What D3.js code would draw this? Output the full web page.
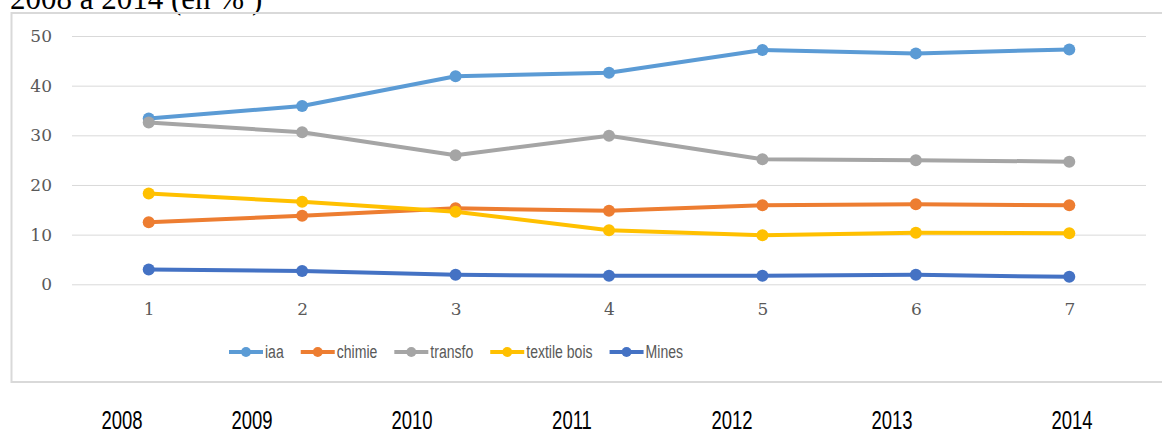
<!DOCTYPE html>
<html>
<head>
<meta charset="utf-8">
<script src="https://cdn.jsdelivr.net/npm/d3@7"></script>
<style>
  body { margin: 0; background: #fff; }
  svg { display: block; }
  .axis text { font-family: "DejaVu Serif", serif; font-size: 17px; fill: #595959; }
  .legend text { font-family: "Liberation Sans", sans-serif; font-size: 18px; fill: #595959; }
  .years text { font-family: "Liberation Sans", sans-serif; font-size: 25px; fill: #000; }
</style>
</head>
<body>
<svg id="chart" width="1162" height="435"></svg>
<script>
// Data
var categories = [1, 2, 3, 4, 5, 6, 7];
var yearLabels = ["2008", "2009", "2010", "2011", "2012", "2013", "2014"];
var seriesNames = ["iaa", "chimie", "transfo", "textile bois", "Mines"];
var iaa = [33.4, 35.9, 41.9, 42.6, 47.2, 46.5, 47.3];
var chimie = [12.5, 13.8, 15.3, 14.8, 15.9, 16.1, 15.9];
var transfo = [32.6, 30.6, 26.0, 29.9, 25.2, 25.0, 24.7];
var textileBois = [18.3, 16.6, 14.6, 10.9, 9.9, 10.4, 10.3];
var mines = [3.0, 2.7, 1.9, 1.7, 1.7, 1.9, 1.5];
var yTicks = [0, 10, 20, 30, 40, 50];

// Layout (not data)
var colors = ["#5B9BD5", "#ED7D31", "#A5A5A5", "#FFC000", "#4472C4"];
var yearX = [122, 252, 412, 572, 732, 892, 1072];

var series = [iaa, chimie, transfo, textileBois, mines].map(function(v, i) {
  return { name: seriesNames[i], color: colors[i], values: v };
});

// squeeze a text horizontally (the original uses a narrow font)
var condense = function(sel, k) {
  sel.each(function() {
    var w = this.getComputedTextLength();
    d3.select(this).attr("textLength", w * k).attr("lengthAdjust", "spacingAndGlyphs");
  });
};

var svg = d3.select("#chart");

// Title, cut off at the top like in the original
svg.append("text")
  .attr("x", 10)
  .attr("y", 9)
  .attr("font-family", "Liberation Serif, Times New Roman, serif")
  .attr("font-size", 31)
  .attr("fill", "#000")
  .text("2008 à 2014 (en % )");

// Chart box
svg.append("rect")
  .attr("x", 11.5)
  .attr("y", 13)
  .attr("width", 1170)
  .attr("height", 369)
  .attr("fill", "none")
  .attr("stroke", "#d9d9d9")
  .attr("stroke-width", 2);

var x = d3.scalePoint().domain(categories).range([72, 1146]).padding(0.5);
var y = d3.scaleLinear().domain([0, 50]).range([284.3, 36]);

// Y axis + gridlines
var yAxis = svg.append("g")
  .attr("class", "axis")
  .attr("transform", "translate(72,0)")
  .call(d3.axisLeft(y).tickValues(yTicks).tickSize(-(1146 - 72)).tickPadding(20));
yAxis.select(".domain").remove();
yAxis.selectAll(".tick line").attr("stroke", "#d9d9d9").attr("stroke-width", 1);

// X axis labels
var xAxis = svg.append("g")
  .attr("class", "axis")
  .attr("transform", "translate(0,284.3)")
  .call(d3.axisBottom(x).tickSize(0).tickPadding(19));
xAxis.select(".domain").remove();

// Lines
var line = d3.line()
  .x(function(d, i) { return x(categories[i]); })
  .y(function(d) { return y(d); });

var groups = svg.append("g").selectAll("g").data(series).enter().append("g");

groups.append("path")
  .attr("d", function(d) { return line(d.values); })
  .attr("fill", "none")
  .attr("stroke", function(d) { return d.color; })
  .attr("stroke-width", 4)
  .attr("stroke-linejoin", "round");

groups.selectAll("circle").data(function(d) { return d.values.map(function(v) { return { v: v, c: d.color }; }); })
  .enter().append("circle")
  .attr("cx", function(d, i) { return x(categories[i]); })
  .attr("cy", function(d) { return y(d.v); })
  .attr("r", 6)
  .attr("fill", function(d) { return d.c; });

// Legend
var legend = svg.append("g").attr("class", "legend");
var lx = 229;
var ly = 352;
series.forEach(function(s) {
  legend.append("line")
    .attr("x1", lx).attr("x2", lx + 34)
    .attr("y1", ly).attr("y2", ly)
    .attr("stroke", s.color).attr("stroke-width", 4);
  legend.append("circle")
    .attr("cx", lx + 17).attr("cy", ly).attr("r", 5)
    .attr("fill", s.color);
  var t = legend.append("text")
    .attr("x", lx + 36)
    .attr("y", ly)
    .attr("dy", "0.36em")
    .text(s.name);
  condense(t, 0.78);
  lx = lx + 36 + (+t.attr("textLength")) + 17;
});

// Years under the chart
var years = svg.append("g").attr("class", "years").selectAll("text").data(yearLabels).enter()
  .append("text")
  .attr("x", function(d, i) { return yearX[i]; })
  .attr("y", 429)
  .attr("text-anchor", "middle")
  .text(function(d) { return d; });
condense(years, 0.74);
</script>
</body>
</html>
